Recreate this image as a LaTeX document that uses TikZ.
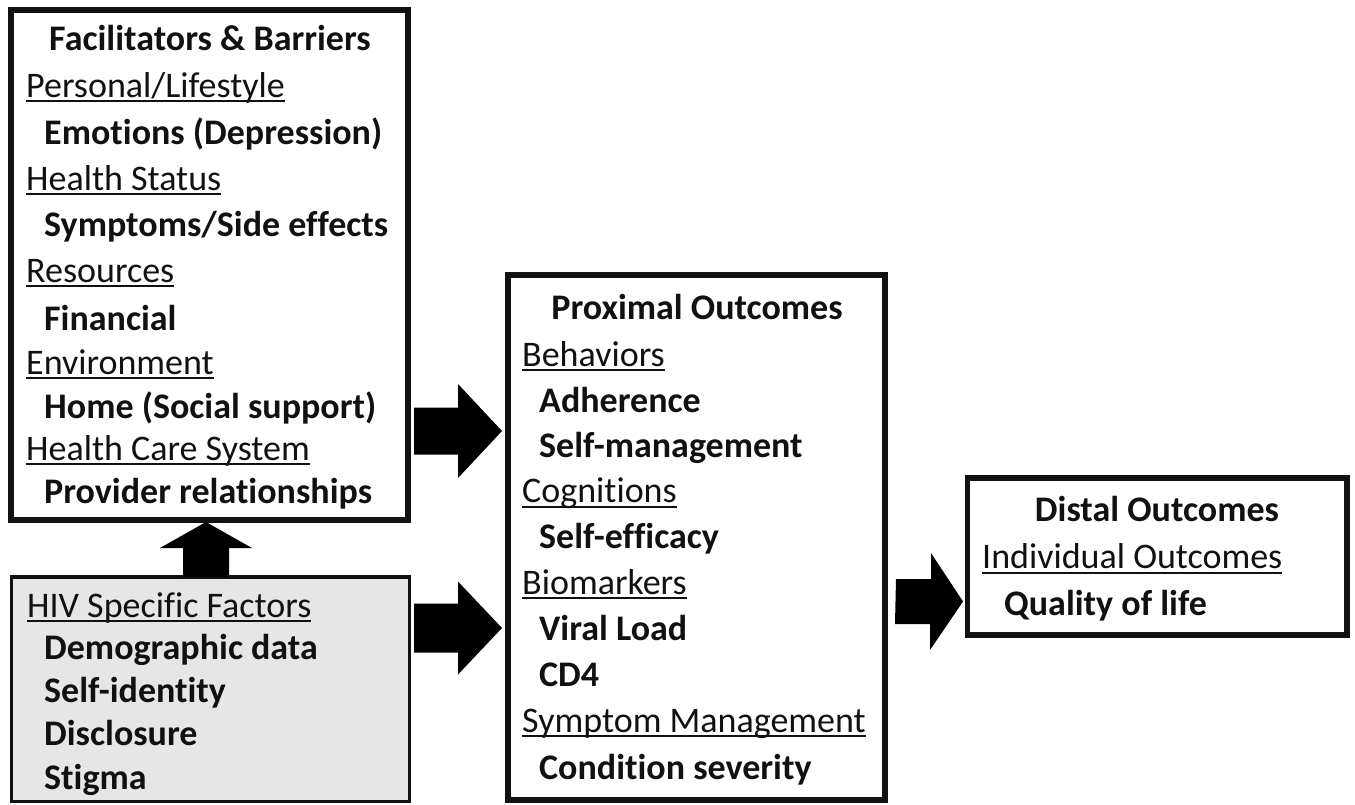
\documentclass[tikz,border=0pt]{standalone}
\usepackage{fontspec}
\setmainfont[Ligatures=NoCommon]{Carlito}
\usetikzlibrary{calc}

\definecolor{hivgray}{RGB}{230,230,230}
\definecolor{ink}{RGB}{17,17,17}

% heading text with a fixed-depth underline
\newcommand\ulh[1]{\setbox0\hbox{#1}\rlap{\rule[-5pt]{\wd0}{1.8pt}}\box0}

\tikzset{
  frame/.style={draw=ink, rectangle, line width=6pt, inner sep=0pt, outer sep=0pt},
  title/.style={anchor=base, inner sep=0pt, text=ink, font=\bfseries},
  head/.style={anchor=base west, inner sep=0pt, text=ink, font=\mdseries},
  item/.style={anchor=base west, inner sep=0pt, text=ink, font=\bfseries},
  blockarrow/.style={fill=black}
}

\begin{document}
\fontsize{36pt}{43pt}\selectfont
\begin{tikzpicture}[x=1pt, y=-1pt]
\useasboundingbox (0,0) rectangle (1355,804);

% boxes
\node[frame, minimum width=397pt, minimum height=510pt] (fb) at (209.5,265) {};
\node[frame, line width=3.5pt, fill=hivgray, minimum width=398pt, minimum height=224.5pt] (hiv) at (210.5,689.25) {};
\node[frame, minimum width=377pt, minimum height=525pt] (prox) at (696.5,537.5) {};
\node[frame, line width=5.5pt, minimum width=379.5pt, minimum height=157pt] (dist) at (1157.25,556.5) {};

% facilitators and barriers
\node[title] (fb-t) at (210,50) {Facilitators \& Barriers};
\node[head] (fb-1) at (26,97) {\ulh{Personal/Lifestyle}};
\node[item] (fb-2) at (44,144) {Emotions (Depression)};
\node[head] (fb-3) at (26,190) {\ulh{Health Status}};
\node[item] (fb-4) at (44,236) {Symptoms/Side effects};
\node[head] (fb-5) at (26,282) {\ulh{Resources}};
\node[item] (fb-6) at (44,330) {Financial};
\node[head] (fb-7) at (26,374) {\ulh{Environment}};
\node[item] (fb-8) at (44,418) {Home (Social support)};
\node[head] (fb-9) at (26,460) {\ulh{Health Care System}};
\node[item] (fb-10) at (44,503) {Provider relationships};

% HIV specific factors
\node[head] (hiv-t) at (27,617) {\ulh{HIV Specific Factors}};
\node[item] (hiv-1) at (44,659) {Demographic data};
\node[item] (hiv-2) at (44,702) {Self-identity};
\node[item] (hiv-3) at (44,745) {Disclosure};
\node[item] (hiv-4) at (44,789) {Stigma};

% proximal outcomes
\node[title] (px-t) at (697,319) {Proximal Outcomes};
\node[head] (px-1) at (522,366) {\ulh{Behaviors}};
\node[item] (px-2) at (539,412) {Adherence};
\node[item] (px-3) at (539,457) {Self-management};
\node[head] (px-4) at (522,502.5) {\ulh{Cognitions}};
\node[item] (px-5) at (539,548.5) {Self-efficacy};
\node[head] (px-6) at (522,594) {\ulh{Biomarkers}};
\node[item] (px-7) at (539,640) {Viral Load};
\node[item] (px-8) at (539,686) {CD4};
\node[head] (px-9) at (522,732) {\ulh{Symptom Management}};
\node[item] (px-10) at (539,779) {Condition severity};

% distal outcomes
\node[title] (ds-t) at (1157,521.5) {Distal Outcomes};
\node[head] (ds-1) at (982,568.5) {\ulh{Individual Outcomes}};
\node[item] (ds-2) at (1004,615.5) {Quality of life};

% block arrows: start and tip points taken from the boxes they join
\coordinate (a1) at ($(fb.east)+(6,166)$);
\coordinate (a1e) at ($(prox.west)+(-6,-106.5)$);
\fill[blockarrow] (a1) ++(0,-23.5) -- ++(44,0) -- ++(0,-23.5) -- (a1e)
  -- ++(-44,47) -- ++(0,-23.5) -- ++(-44,0) -- cycle;

\coordinate (a2) at ($(hiv.east)+(4.5,-61.25)$);
\coordinate (a2e) at ($(prox.west)+(-6,90.5)$);
\fill[blockarrow] (a2) ++(0,-24.5) -- ++(44,0) -- ++(0,-22) -- (a2e)
  -- ++(-44,46.5) -- ++(0,-22) -- ++(-44,0) -- cycle;

\coordinate (u1) at ($(hiv.north)+(-4.5,0)$);
\coordinate (u1e) at ($(fb.south)+(-3.5,2)$);
\fill[blockarrow] (u1) ++(-23,0) -- ++(0,-29) -- ++(-23,0) -- (u1e)
  -- ++(46,26) -- ++(-23,0) -- ++(0,29) -- cycle;

\coordinate (a3) at ($(prox.east)+(11,64)$);
\coordinate (a3e) at ($(dist.west)+(-4.5,45)$);
\fill[blockarrow] (a3) ++(0,-22.5) -- ++(35,0) -- ++(0,-26) -- (a3e)
  -- ++(-33,48.5) -- ++(0,-26) -- ++(-35,0) -- cycle;
\end{tikzpicture}
\end{document}
